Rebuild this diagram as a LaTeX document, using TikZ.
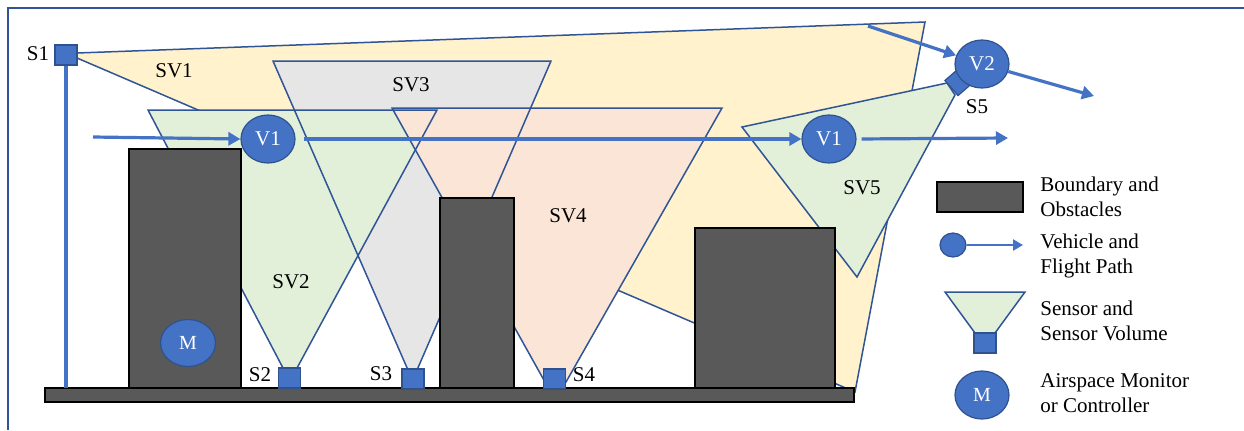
\documentclass[tikz,border=0pt]{standalone}
\usepackage{fontspec}
\setmainfont{Liberation Serif}
\usetikzlibrary{shapes.geometric,arrows.meta}

\definecolor{vblue}{HTML}{4472C4}
\definecolor{vline}{HTML}{2F528F}
\definecolor{svline}{HTML}{2F5597}
\definecolor{obstfill}{HTML}{595959}
\definecolor{svyellow}{HTML}{FFF2CC}
\definecolor{svgreen}{HTML}{E2F0D9}
\definecolor{svgray}{HTML}{E7E6E6}
\definecolor{svpink}{HTML}{FBE5D6}

\tikzset{
  volume/.style={draw=svline, line width=0.75pt, line join=miter},
  obstacle/.style={draw=black, fill=obstfill, line width=0.8pt, inner sep=0, outer sep=0},
  sensor/.style={draw=vline, fill=vblue, line width=0.6pt, minimum width=11pt, minimum height=10pt, inner sep=0},
  vehicle/.style={ellipse, draw=vline, fill=vblue, line width=0.6pt, minimum width=27pt, minimum height=24pt,
    inner sep=0, text=white, font=\fontsize{10.5}{12}\selectfont},
  monitor/.style={vehicle, font=\fontsize{10}{11}\selectfont},
  flight/.style={draw=vblue, line width=1.6pt, -{Triangle[length=6pt,width=6.5pt]}},
  lbl/.style={font=\fontsize{10.5}{12.5}\selectfont, inner sep=0},
  legtext/.style={lbl, anchor=west, align=left},
  frameline/.style={draw=svline, line width=0.6pt}
}

\begin{document}
\begin{tikzpicture}[x=0.5pt, y=-0.5pt]
\useasboundingbox (0,0) rectangle (1244,430);

% sensor volume of S1 (underneath everything)
\filldraw[volume, fill=svyellow] (77,53) -- (925,22) -- (855,392) -- (77,58) -- cycle;

% remaining sensor volumes: fills first, outlines on top
\fill[svgray]  (273,61) -- (551,61) -- (417,370) -- (408,370) -- cycle;
\fill[svgreen] (148,110) -- (437,110) -- (297,368) -- (283,368) -- cycle;
\fill[svpink]  (392,108) -- (722,108) -- (566,382) -- (545,382) -- cycle;
\fill[svgreen] (742,127) -- (947,83) -- (955,95) -- (857,277) -- cycle;
\draw[volume] (273,61) -- (551,61) -- (417,370) -- (408,370) -- cycle;
\draw[volume] (148,110) -- (437,110) -- (297,368) -- (283,368) -- cycle;
\draw[volume] (392,108) -- (722,108) -- (566,382) -- (545,382) -- cycle;
\draw[volume] (742,127) -- (947,83) -- (955,95) -- (857,277) -- cycle;

% obstacles and ground
\node[obstacle, anchor=north west, minimum width=56pt, minimum height=119.5pt] (ob1) at (129,149) {};
\node[obstacle, anchor=north west, minimum width=37pt, minimum height=95pt] (ob2) at (440,198) {};
\node[obstacle, anchor=north west, minimum width=70pt, minimum height=80pt] (ob3) at (695,228) {};
\node[obstacle, anchor=north west, minimum width=404.5pt, minimum height=7pt] (gnd) at (45,388) {};

% sensors
\node[sensor] (s1) at (66,55) {};
\draw[draw=vblue, line width=2.4pt] (s1.south) -- (s1.south |- gnd.north);
\node[sensor] (s2) at (289.5,378) {};
\node[sensor] (s3) at (413,379) {};
\node[sensor] (s4) at (554.5,379) {};
\node[sensor, minimum width=10pt, rotate=41] (s5) at (959,81.5) {};

% vehicles, monitor and flight paths
\node[vehicle] (v1a) at (268,139) {V1};
\node[vehicle] (v1b) at (829,139) {V1};
\node[vehicle] (v2) at (982,64) {V2};
\node[monitor, minimum width=27.5pt, minimum height=23.5pt] (m) at (188,343) {M};

\coordinate (v1start) at (93,137);
\coordinate (v1end) at (1008,138);
\coordinate (v2start) at (868,26);
\coordinate (v2end) at (1094,96);
\draw[flight] (v1start) -- (v1a.west);
\draw[flight, shorten <=4pt] (v1a.east) -- (v1b.west);
\draw[flight, shorten <=2.5pt] (v1b.east) -- (v1end);
\draw[flight] (v2start) -- (v2);
\draw[flight] (v2) -- (v2end);

% labels
\node[lbl] (ls1) at (38,54) {S1};
\node[lbl] (ls2) at (260,375) {S2};
\node[lbl] (ls3) at (381,374) {S3};
\node[lbl] (ls4) at (584,375) {S4};
\node[lbl] (ls5) at (977,107) {S5};
\node[lbl] (lsv1) at (174,71) {SV1};
\node[lbl] (lsv2) at (291,282) {SV2};
\node[lbl] (lsv3) at (411,85) {SV3};
\node[lbl] (lsv4) at (568,216) {SV4};
\node[lbl] (lsv5) at (862,188) {SV5};

% legend
\node[obstacle, minimum width=43pt, minimum height=15pt] (kobst) at (980,197) {};
\node[legtext] (tobst) at (1040,197) {Boundary and\\Obstacles};

\node[vehicle, minimum width=13pt, minimum height=12pt] (kveh) at (953,245) {};
\coordinate (kvehend) at (1023,245);
\draw[draw=vblue, line width=1.3pt, -{Triangle[length=5pt,width=5.5pt]}] (kveh.east) -- (kvehend);
\node[legtext] (tveh) at (1040,256) {Vehicle and\\Flight Path};

\filldraw[volume, fill=svgreen] (945,292) -- (1025,292) -- (995,333) -- (975,333) -- cycle;
\node[sensor] (ksens) at (985,343) {};
\node[legtext] (tsens) at (1040,321) {Sensor and\\Sensor Volume};

\node[monitor] (kmon) at (982,395) {M};
\node[legtext] (tmon) at (1040,393) {Airspace Monitor\\or Controller};

% frame
\draw[frameline] (8,430) -- (8,8) -- (1244,8);
\end{tikzpicture}
\end{document}
